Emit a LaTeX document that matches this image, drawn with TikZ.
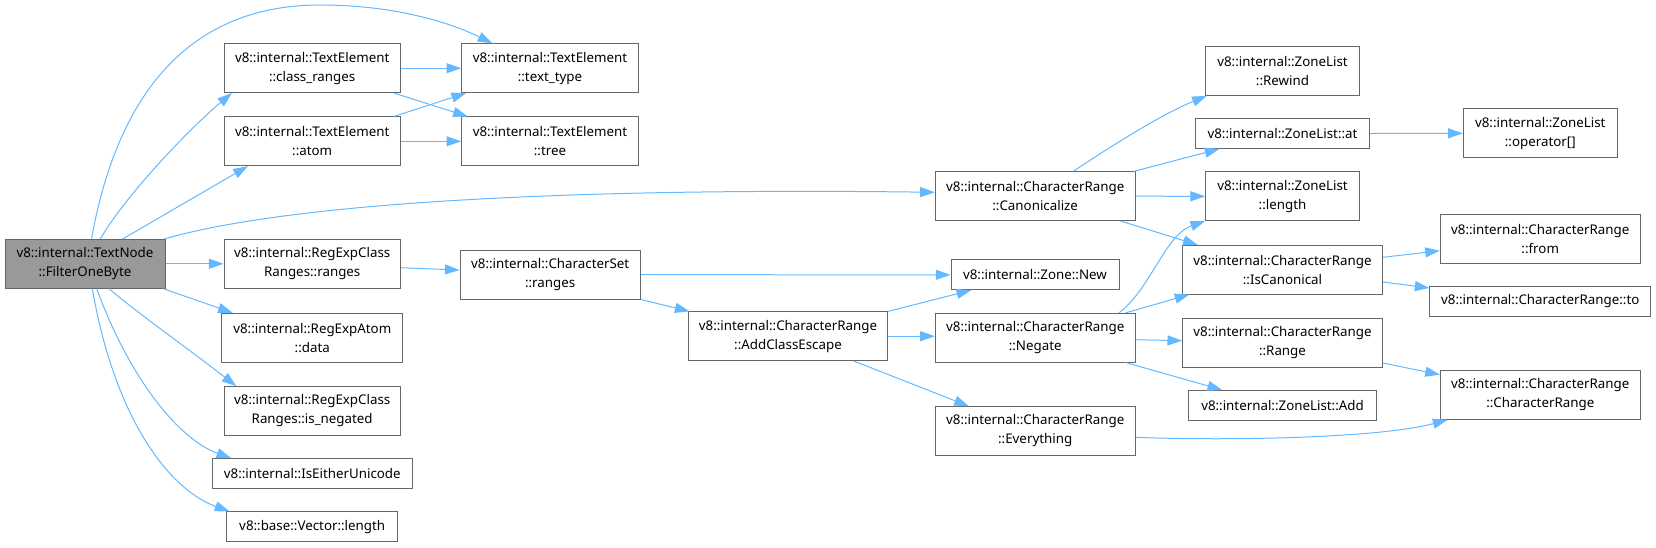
\documentclass[tikz,border=0pt]{standalone}
\usepackage{fontspec}
\setmainfont{Noto Sans}
\usetikzlibrary{arrows.meta,calc}
\definecolor{edgeblue}{HTML}{63B8FF}
\definecolor{boxgray}{HTML}{666666}
\definecolor{rootfill}{HTML}{999999}

\begin{document}
\begin{tikzpicture}[x=0.75pt, y=-0.75pt,
    fn/.style={rectangle, draw=boxgray, line width=0.75pt, inner sep=0pt, align=center,
        minimum width=#1, minimum height=36.5pt, font=\fontsize{10}{14.25}\selectfont},
    fnone/.style={fn=#1, minimum height=22.3pt},
    call/.style={draw=edgeblue, line width=0.75pt, -{Triangle[length=11pt,width=7.5pt]}}]
    \useasboundingbox (0,0) rectangle (1656,547);

    % root
    \node (filter) [fn=120pt, fill=rootfill] at (85,263.8) {v8::internal::TextNode\\::FilterOneByte};

    % first level
    \node (classranges) [fn=132.2pt] at (312.2,68.2) {v8::internal::TextElement\\::class\_ranges};
    \node (atom) [fn=132.2pt] at (312.2,141.3) {v8::internal::TextElement\\::atom};
    \node (rcranges) [fn=132.2pt] at (312.2,263.8) {v8::internal::RegExpClass\\Ranges::ranges};
    \node (atomdata) [fn=135.5pt] at (312.3,337.7) {v8::internal::RegExpAtom\\::data};
    \node (negated) [fn=132.2pt] at (312.2,411) {v8::internal::RegExpClass\\Ranges::is\_negated};
    \node (eitheruni) [fnone=150pt] at (312.3,473.5) {v8::internal::IsEitherUnicode};
    \node (veclen) [fnone=128.3pt] at (312.2,526.7) {v8::base::Vector::length};

    % second level
    \node (texttype) [fn=132.5pt] at (550,68.2) {v8::internal::TextElement\\::text\_type};
    \node (tree) [fn=132.5pt] at (550,141.3) {v8::internal::TextElement\\::tree};
    \node (charset) [fn=135.2pt] at (550.2,274.7) {v8::internal::CharacterSet\\::ranges};

    % CharacterRange calls
    \node (addclass) [fn=149.5pt] at (788,336.2) {v8::internal::CharacterRange\\::AddClassEscape};
    \node (canon) [fn=149.8pt] at (1035.2,196.2) {v8::internal::CharacterRange\\::Canonicalize};
    \node (zonenew) [fnone=126pt] at (1035,274.8) {v8::internal::Zone::New};
    \node (negate) [fn=149.8pt] at (1035.2,337.7) {v8::internal::CharacterRange\\::Negate};
    \node (everything) [fn=149.8pt] at (1035.2,431) {v8::internal::CharacterRange\\::Everything};

    \node (rewind) [fn=115.3pt] at (1282.5,71) {v8::internal::ZoneList\\::Rewind};
    \node (zoneat) [fnone=130.3pt] at (1282.5,133.5) {v8::internal::ZoneList::at};
    \node (zonelen) [fn=115.3pt] at (1282.5,196.3) {v8::internal::ZoneList\\::length};
    \node (iscanon) [fn=149.8pt] at (1282.5,269.7) {v8::internal::CharacterRange\\::IsCanonical};
    \node (range) [fn=149.8pt] at (1282.5,343) {v8::internal::CharacterRange\\::Range};
    \node (zoneadd) [fnone=140.3pt] at (1282.5,405.3) {v8::internal::ZoneList::Add};

    \node (zoneop) [fn=115.5pt] at (1540.3,133.3) {v8::internal::ZoneList\\::operator[]};
    \node (rangefrom) [fn=149.8pt] at (1540.2,238.8) {v8::internal::CharacterRange\\::from};
    \node (rangeto) [fnone=165.5pt] at (1540.3,301.3) {v8::internal::CharacterRange::to};
    \node (crctor) [fn=149.8pt] at (1540.3,395) {v8::internal::CharacterRange\\::CharacterRange};

    % calls from the root
    \draw [call] ($(filter.north)+(6.5,0)$) .. controls (120,80) and (200,5) .. (320,5)
        .. controls (400,5) and (455,25) .. ($(texttype.north west)+(31.3,0)$);
    \draw [call] ($(filter.north)+(15.3,0)$) .. controls (125,196) and (190,128) .. ($(classranges.south west)+(8.3,0)$);
    \draw [call] ($(filter.north)+(37.7,0)$) -- ($(atom.south west)+(24.3,0)$);
    \draw [call] ($(filter.north east)+(-1.4,0)$) .. controls (300,200) and (600,188) .. ($(canon.west)+(0,-3.9)$);
    \draw [call] (filter.east) -- (rcranges.west);
    \draw [call] ($(filter.south east)+(-2.4,0)$) -- ($(atomdata.north west)+(11.3,0)$);
    \draw [call] ($(filter.south)+(24,0)$) .. controls (140,315) and (190,350) .. ($(negated.north west)+(12.7,0)$);
    \draw [call] ($(filter.south)+(11.7,0)$) .. controls (130,380) and (180,440) .. ($(eitheruni.north west)+(19.4,0)$);
    \draw [call] ($(filter.south)+(7.3,0)$) .. controls (115,420) and (170,490) .. ($(veclen.north west)+(3.3,0)$);

    % TextElement
    \draw [call] (classranges.east) -- (texttype.west);
    \draw [call] ($(classranges.south east)+(-7,0)$) -- ($(tree.north west)+(6.6,0)$);
    \draw [call] ($(atom.north east)+(-7,0)$) -- ($(texttype.south west)+(5,0)$);
    \draw [call] (atom.east) -- (tree.west);

    % ranges
    \draw [call] ($(rcranges.east)+(0,3.9)$) -- ($(charset.west)+(0,-4.7)$);
    \draw [call] (charset.east) -- (zonenew.west);
    \draw [call] (charset.south east) -- ($(addclass.north west)+(1.7,0)$);
    \draw [call] (addclass.north east) -- ($(zonenew.south west)+(20.7,0)$);
    \draw [call] (addclass.east) -- (negate.west |- addclass.east);
    \draw [call] ($(addclass.south east)+(-34.4,0)$) -- ($(everything.north west)+(34,0)$);

    % Canonicalize
    \draw [call] ($(canon.north)+(38.1,0)$) .. controls (1105,150) and (1160,115) .. ($(rewind.south west)+(1.6,0)$);
    \draw [call] ($(canon.north east)+(-1.7,0)$) -- ($(zoneat.south west)+(24.3,0)$);
    \draw [call] (canon.east) -- (zonelen.west);
    \draw [call] ($(canon.south east)+(-15,0)$) -- ($(iscanon.north west)+(15.6,0)$);

    % Negate
    \draw [call] ($(negate.north east)+(-16.7,0)$) .. controls (1150,290) and (1165,235) .. (zonelen.south west);
    \draw [call] ($(negate.north east)+(-10,0)$) -- ($(iscanon.south west)+(7.3,0)$);
    \draw [call] ($(negate.east)+(0,2)$) -- ($(range.west)+(0,-2.3)$);
    \draw [call] ($(negate.south east)+(-10,0)$) -- ($(zoneadd.north west)+(33.7,0)$);
    \draw [call] ($(everything.east)+(0,6.3)$) .. controls (1230,441) and (1380,438) .. ($(crctor.south west)+(7.6,0)$);

    % last column
    \draw [call] (zoneat.east) -- (zoneop.west);
    \draw [call] ($(iscanon.east)+(0,-12.4)$) -- ($(rangefrom.west)+(0,11.9)$);
    \draw [call] ($(iscanon.east)+(0,12.3)$) -- ($(rangeto.west)+(0,-13.3)$);
    \draw [call] ($(range.east)+(0,20)$) -- ($(crctor.west)+(0,-20.3)$);
\end{tikzpicture}
\end{document}
